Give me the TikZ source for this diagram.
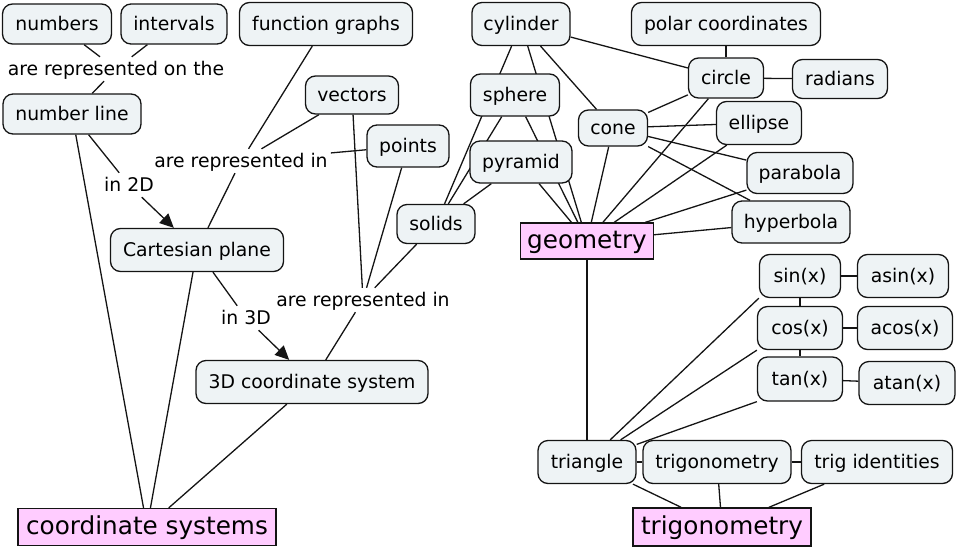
\documentclass[tikz,border=0pt]{standalone}
\usepackage{fontspec}
\setmainfont{DejaVu Sans}
\usetikzlibrary{arrows.meta,backgrounds}
\definecolor{cfill}{RGB}{238,243,245}
\definecolor{pfill}{RGB}{255,204,255}
\definecolor{ln}{RGB}{20,20,20}
\begin{document}
\begin{tikzpicture}[x=1pt,y=-1pt,
 concept/.style={draw=ln, line width=1.3pt, fill=cfill, rounded corners=10pt,
   font=\fontsize{18.8}{22}\selectfont, text height=16pt, text depth=3pt,
   inner sep=0pt, minimum height=42pt},
 topic/.style={draw=ln, line width=1.3pt, fill=pfill,
   font=\fontsize{24.7}{28}\selectfont, text height=18.5pt, text depth=4.5pt,
   inner sep=0pt, minimum height=37pt},
 linkph/.style={font=\fontsize{18.8}{22}\selectfont, inner sep=3pt,
   text height=15pt, text depth=3pt},
 conn/.style={draw=ln, line width=1.3pt},
 arr/.style={conn, -{Triangle[length=14pt,width=13pt]}}
]
\useasboundingbox (0,0) rectangle (958,549);
% concepts - left
\node[concept, minimum width=109pt, minimum height=40pt] (numbers) at (57,24) {numbers};
\node[concept, minimum width=106pt, minimum height=40pt] (intervals) at (174,24) {intervals};
\node[concept, minimum width=173pt, minimum height=43pt] (fgraphs) at (326,24) {function graphs};
\node[linkph] (lab1) at (116,69) {are represented on the};
\node[concept, minimum width=138pt, minimum height=40pt] (nline) at (72,114) {number line};
\node[concept, minimum width=93pt, minimum height=38pt] (vectors) at (352,95) {vectors};
\node[concept, minimum width=82pt, minimum height=42pt] (points) at (408,146) {points};
\node[linkph] (lab2) at (241,161) {are represented in};
\node[linkph] (in2d) at (129,185) {in 2D};
\node[concept, minimum width=173pt, minimum height=43pt] (cart) at (197,250) {Cartesian plane};
\node[concept, minimum width=78pt, minimum height=39pt] (solids) at (436,224) {solids};
\node[linkph] (in3d) at (246,318) {in 3D};
\node[linkph] (lab3) at (363,300) {are represented in};
\node[concept, minimum width=232pt, minimum height=43pt] (cs3d) at (312,382) {3D coordinate system};
\node[topic, minimum width=258pt] (coordsys) at (147,527) {coordinate systems};
% concepts - right
\node[concept, minimum width=98pt, minimum height=43pt] (cylinder) at (521,24) {cylinder};
\node[concept, minimum width=189pt, minimum height=43pt] (polar) at (726,24) {polar coordinates};
\node[concept, minimum width=75pt, minimum height=40pt] (circle) at (726,78) {circle};
\node[concept, minimum width=95pt, minimum height=39pt] (radians) at (840,79) {radians};
\node[concept, minimum width=89pt, minimum height=42pt] (sphere) at (515,95) {sphere};
\node[concept, minimum width=69pt, minimum height=36pt] (cone) at (613,128) {cone};
\node[concept, minimum width=85pt, minimum height=43pt] (ellipse) at (759,123) {ellipse};
\node[concept, minimum width=102pt, minimum height=42pt] (pyramid) at (521,162) {pyramid};
\node[concept, minimum width=106pt, minimum height=41pt] (parabola) at (800,173) {parabola};
\node[concept, minimum width=118pt, minimum height=42pt] (hyperbola) at (791,222) {hyperbola};
\node[topic, minimum width=133pt, minimum height=36pt] (geometry) at (587,241) {geometry};
\node[concept, minimum width=81pt, minimum height=43pt] (sin) at (800,276) {sin(x)};
\node[concept, minimum width=91pt, minimum height=43pt] (asin) at (903,276) {asin(x)};
\node[concept, minimum width=85pt, minimum height=43pt] (cos) at (800,328) {cos(x)};
\node[concept, minimum width=95pt, minimum height=43pt] (acos) at (905,328) {acos(x)};
\node[concept, minimum width=85pt, minimum height=44pt] (tan) at (800,379) {tan(x)};
\node[concept, minimum width=96pt, minimum height=43pt] (atan) at (907,383) {atan(x)};
\node[concept, minimum width=98pt, minimum height=43pt] (triangle) at (587,462) {triangle};
\node[concept, minimum width=148pt, minimum height=43pt] (trigs) at (717,462) {trigonometry};
\node[concept, minimum width=151pt, minimum height=43pt] (trigid) at (877,462) {trig identities};
\node[topic, minimum width=178pt, minimum height=38pt] (trigbig) at (722,527) {trigonometry};
% connectors
\begin{scope}[on background layer]
\draw[conn] (numbers) -- (lab1);
\draw[conn] (intervals) -- (lab1);
\draw[conn] (lab1) -- (nline);
\draw[conn] (nline) -- (in2d);
\draw[arr] (in2d) -- (cart);
\draw[conn] (nline) -- (coordsys);
\draw[conn] (fgraphs) -- (lab2);
\draw[conn] (vectors) -- (lab2);
\draw[conn] (points) -- (lab2);
\draw[conn] (lab2) -- (cart);
\draw[conn] (cart) -- (coordsys);
\draw[conn] (cart) -- (in3d);
\draw[arr] (in3d) -- (cs3d);
\draw[conn] (vectors) -- (lab3);
\draw[conn] (points) -- (lab3);
\draw[conn] (solids) -- (lab3);
\draw[conn] (lab3) -- (cs3d);
\draw[conn] (cs3d) -- (coordsys);
% geometry cluster
\draw[conn] (cylinder) -- (solids);
\draw[conn] (cylinder) -- (geometry);
\draw[conn] (cylinder) -- (cone);
\draw[conn] (cylinder) -- (circle);
\draw[conn] (sphere) -- (solids);
\draw[conn] (sphere) -- (geometry);
\draw[conn] (pyramid) -- (solids);
\draw[conn] (pyramid) -- (geometry);
\draw[conn] (cone) -- (geometry);
\draw[conn] (cone) -- (circle);
\draw[conn] (cone) -- (ellipse);
\draw[conn] (cone) -- (parabola);
\draw[conn] (cone) -- (hyperbola);
\draw[conn] (circle) -- (polar);
\draw[conn] (circle) -- (radians);
\draw[conn] (circle) -- (geometry);
\draw[conn] (ellipse) -- (geometry);
\draw[conn] (parabola) -- (geometry);
\draw[conn] (hyperbola) -- (geometry);
\draw[conn] (geometry) -- (triangle);
% trigonometry cluster
\draw[conn] (sin) -- (asin);
\draw[conn] (cos) -- (acos);
\draw[conn] (tan) -- (atan);
\draw[conn] (sin) -- (cos);
\draw[conn] (cos) -- (tan);
\draw[conn] (triangle) -- (sin.south west);
\draw[conn] (triangle) -- (cos.south west);
\draw[conn] (triangle) -- (tan.south west);
\draw[conn] (triangle) -- (trigs);
\draw[conn] (trigs) -- (trigid);
\draw[conn] (triangle) -- (trigbig);
\draw[conn] (trigs) -- (trigbig);
\draw[conn] (trigid) -- (trigbig);
\end{scope}
\end{tikzpicture}
\end{document}
